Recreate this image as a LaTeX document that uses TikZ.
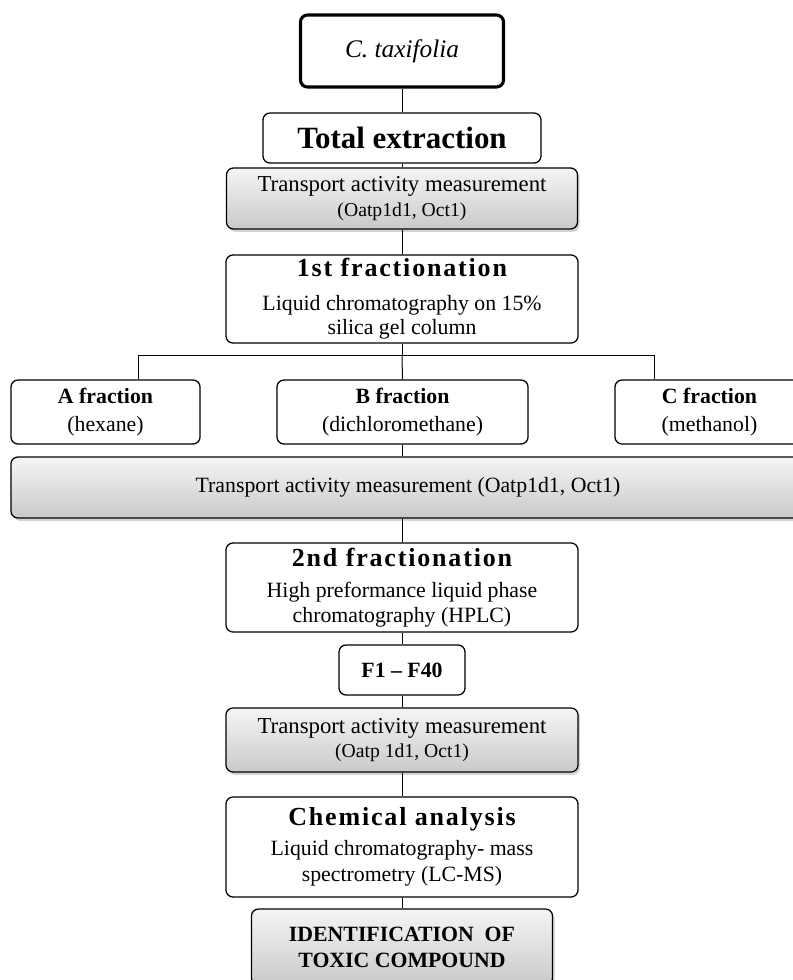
\documentclass[tikz,border=0pt]{standalone}
\usepackage{fontspec}
\setmainfont{Liberation Serif}
\usetikzlibrary{shadows}
\newcommand{\txtsize}{\normalfont\fontsize{15.5}{17.5}\selectfont}
\newcommand{\subsize}{\normalfont\fontsize{14}{17}\selectfont}
\newcommand{\headsize}{\normalfont\fontsize{18.5}{24}\selectfont\bfseries\addfontfeature{LetterSpace=7}}
\begin{document}
\begin{tikzpicture}[x=0.025cm, y=-0.025cm,
    box/.style={draw, line width=0.9pt, rounded corners=5pt, fill=white, align=center, inner sep=0pt, font=\txtsize},
    graybox/.style={box, top color=gray!8, bottom color=gray!42,
        drop shadow={opacity=0.35, shadow xshift=1.5pt, shadow yshift=-2pt}},
    link/.style={line width=0.7pt}]
\useasboundingbox (0,0) rectangle (793,980);

\node[box, line width=2.2pt, minimum width=5.075cm, minimum height=1.8cm] (taxi) at (402,51)
    {\fontsize{18}{20}\selectfont\itshape C. taxifolia};
\node[box, minimum width=6.95cm, minimum height=1.25cm] (total) at (402,138)
    {\fontsize{22}{24}\selectfont\bfseries Total extraction};
\node[graybox, minimum width=8.775cm, minimum height=1.525cm] (meas1) at (402,198.5)
    {\fontsize{16.2}{18}\selectfont Transport activity measurement\\ \subsize (Oatp1d1, Oct1)};
\node[box, minimum width=8.8cm, minimum height=2.2cm] (frac1) at (402,299)
    {\headsize 1st fractionation\\[6pt] Liquid chromatography on 15\%\\ silica gel column};

\node[box, minimum width=4.725cm, minimum height=1.6cm] (fracA) at (105.5,412)
    {\bfseries A fraction\\[2pt] (hexane)};
\node[box, minimum width=6.275cm, minimum height=1.6cm] (fracB) at (402.5,412)
    {\bfseries B fraction\\[2pt] (dichloromethane)};
\node[box, minimum width=4.725cm, minimum height=1.6cm] (fracC) at (709.5,412)
    {\bfseries C fraction\\[2pt] (methanol)};

\node[graybox, minimum width=19.85cm, minimum height=1.525cm] (meas2) at (408,487.5)
    {Transport activity measurement (Oatp1d1, Oct1)};
\node[box, minimum width=8.8cm, minimum height=2.225cm] (frac2) at (402,587.5)
    {\headsize 2nd fractionation\\[5pt] High preformance liquid phase\\ chromatography (HPLC)};
\node[box, minimum width=3.15cm, minimum height=1.25cm] (sub) at (402,670)
    {\bfseries F1 -- F40};
\node[graybox, minimum width=8.8cm, minimum height=1.6cm] (meas3) at (402,740)
    {\fontsize{16.2}{18}\selectfont Transport activity measurement\\ \subsize (Oatp 1d1, Oct1)};
\node[box, minimum width=8.8cm, minimum height=2.5cm] (chem) at (402,847)
    {\headsize Chemical analysis\\[4pt] Liquid chromatography- mass\\[1pt] spectrometry (LC-MS)};
\node[graybox, minimum width=7.525cm, minimum height=1.9cm, font=\txtsize\bfseries] (ident) at (402,947)
    {IDENTIFICATION\ \ OF\\[1pt] TOXIC COMPOUND};

\coordinate (split) at (402,355);
\coordinate (splitA) at (138,355);
\coordinate (splitC) at (654,355);

\draw[link] (taxi.south) -- (total.north);
\draw[link] (total.south) -- (meas1.north);
\draw[link] (meas1.south) -- (frac1.north);
\draw[link] (frac1.south) -- (split);
\draw[link] (splitA |- fracA.north) -- (splitA) -- (splitC) -- (splitC |- fracC.north);
\draw[link] (split) -- (fracB.north);
\draw[link] (fracB.south) -- (fracB.south |- meas2.north);
\draw[link] (meas2.south -| frac2.north) -- (frac2.north);
\draw[link] (frac2.south) -- (sub.north);
\draw[link] (sub.south) -- (meas3.north);
\draw[link] (meas3.south) -- (chem.north);
\draw[link] (chem.south) -- (ident.north);
\end{tikzpicture}
\end{document}
